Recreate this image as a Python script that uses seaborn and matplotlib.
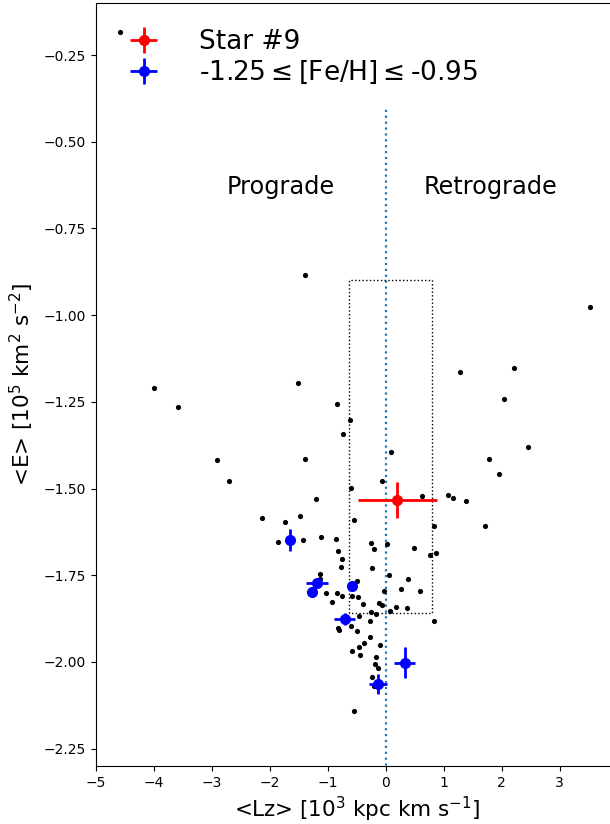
import matplotlib
matplotlib.use("Agg")
import matplotlib.pyplot as plt
import seaborn as sns
import numpy as np
import pandas as pd

# ---- data ----
bg_lz = [-4.59, -1.39, -1.51, -4.00, -3.58, -0.84, -0.61, -0.74, 1.28, -2.91,
         -1.39, -2.70, 0.09, -0.06, -0.60, -1.20, 0.63, 1.08, 1.16, -2.14,
         -1.48, -1.74, -0.54, 0.84, -1.86, -1.42, -1.11, -0.85, -0.26, -0.20,
         0.03, 0.49, -0.82, -0.76, -0.77, -0.24, 0.77, 0.87, -1.14, -1.14,
         0.05, 0.39, -0.50, 0.26, 0.59, -0.03, -1.03, -0.84, -0.76, -0.92,
         -0.58, -0.48, -0.39, -0.11, -0.06, 0.17, 0.37, 0.07, -0.25, -0.17,
         -0.46, 0.83, -0.27, -0.82, -0.81, -0.60, -0.50, -0.10, -0.27, -0.38,
         -0.46, -0.59, -0.44, -0.16, -0.19, -0.13, -0.23, -0.20, -0.54, 3.53,
         2.21, 2.04, 2.46, 1.78, 1.96, 1.39, 1.71]
bg_e = [-0.184, -0.883, -1.196, -1.210, -1.266, -1.255, -1.303, -1.344, -1.163, -1.417,
        -1.415, -1.478, -1.395, -1.478, -1.497, -1.530, -1.522, -1.520, -1.526, -1.586,
        -1.578, -1.596, -1.591, -1.608, -1.653, -1.649, -1.640, -1.646, -1.656, -1.675,
        -1.661, -1.670, -1.680, -1.702, -1.727, -1.729, -1.693, -1.686, -1.745, -1.761,
        -1.750, -1.760, -1.768, -1.790, -1.794, -1.794, -1.802, -1.800, -1.810, -1.827,
        -1.811, -1.814, -1.834, -1.829, -1.836, -1.842, -1.845, -1.853, -1.856, -1.862,
        -1.868, -1.883, -1.883, -1.901, -1.908, -1.895, -1.910, -1.951, -1.929, -1.945,
        -1.957, -1.968, -1.981, -1.986, -2.007, -2.016, -2.044, -2.070, -2.141, -0.977,
        -1.153, -1.241, -1.379, -1.415, -1.459, -1.537, -1.609]

star_lz = [0.20]
star_e = [-1.533]
star_lz_err = [0.68]
star_e_err = [0.052]

met_lz = [-1.647, -1.181, -1.267, -0.590, -0.708, 0.328, -0.133]
met_e = [-1.649, -1.772, -1.797, -1.780, -1.876, -2.002, -2.063]
met_lz_err = [0.02, 0.19, 0.02, 0.02, 0.18, 0.185, 0.147]
met_e_err = [0.032, 0.008, 0.005, 0.005, 0.018, 0.045, 0.029]

box_lz = [-0.63, 0.80]
box_e = [-1.86, -0.90]

labels = ["Star #9", "-1.25$\\leq$[Fe/H]$\\leq$-0.95"]
region_labels = ["Prograde", "Retrograde"]
xticks = [-5, -4, -3, -2, -1, 0, 1, 2, 3]
yticks = [-2.25, -2.0, -1.75, -1.5, -1.25, -1.0, -0.75, -0.5, -0.25]

# ---- plot ----
sns.set_style("ticks", {"text.color": "black", "axes.labelcolor": "black",
                        "xtick.color": "black", "ytick.color": "black",
                        "axes.edgecolor": "black"})
plt.rcParams["font.family"] = ["DejaVu Sans"]

fig = plt.figure(figsize=(6.1, 8.24), dpi=100)
ax = fig.add_axes([96/610, (824-766)/824, (617.5-96)/610, (766-3)/824])

df = pd.DataFrame({"Lz": bg_lz, "E": bg_e})
sns.scatterplot(data=df, x="Lz", y="E", ax=ax, color="black", s=14,
                linewidth=0, zorder=2, legend=False)

ax.errorbar(star_lz, star_e, xerr=star_lz_err, yerr=star_e_err, fmt="o",
            color="red", ms=7, elinewidth=2, label=labels[0], zorder=4)
ax.errorbar(met_lz, met_e, xerr=met_lz_err, yerr=met_e_err, fmt="o",
            color="blue", ms=7, elinewidth=2, label=labels[1], zorder=3)

ax.plot([0, 0], [-2.4, -0.40], linestyle=":", color="C0", lw=1.6, zorder=1)
ax.plot([box_lz[0], box_lz[0], box_lz[1], box_lz[1], box_lz[0]],
        [box_e[0], box_e[1], box_e[1], box_e[0], box_e[0]],
        linestyle=":", color="black", lw=1.0, zorder=1)

ax.text(-1.82, -0.63, region_labels[0], ha="center", va="center", fontsize=17.3)
ax.text(1.80, -0.63, region_labels[1], ha="center", va="center", fontsize=17.3)

ax.set_xlim(-5, 4)
ax.set_ylim(-2.30, -0.10)
ax.set_xticks(xticks)
ax.set_yticks(yticks)
ax.tick_params(labelsize=10, length=3.5)
ax.set_xlabel("<Lz> [10$^3$ kpc km s$^{-1}$]", fontsize=15.5)
ax.set_ylabel("<E> [10$^5$ km$^2$ s$^{-2}$]", fontsize=15.5, labelpad=6)

ax.legend(loc="upper left", frameon=False, fontsize=19,
          bbox_to_anchor=(0.0, 1.0), handlelength=1.6, handletextpad=1.3,
          labelspacing=0.15, borderaxespad=0.6)

fig.savefig("out.png", dpi=100)
